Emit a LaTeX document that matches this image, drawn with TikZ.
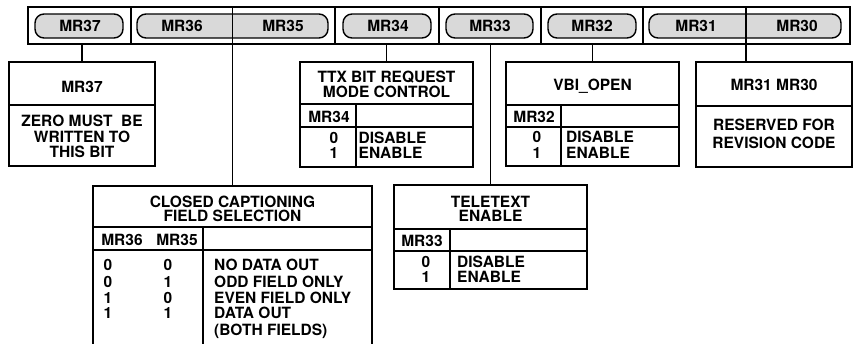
\documentclass[tikz,border=0pt]{standalone}
\usepackage{fontspec}
\setmainfont{TeX Gyre Heros}
\definecolor{pillgray}{HTML}{D9D9D9}
\tikzset{
  lbl/.style={inner sep=0pt, text height=11.1pt, text depth=0pt, font=\fontsize{15.5}{16}\selectfont\bfseries},
  boxn/.style={draw, line width=1.8pt, rectangle, inner sep=0pt},
  pill/.style={draw, line width=1.4pt, fill=pillgray, rounded corners=9pt, inner sep=0pt, minimum height=24pt},
  wire/.style={line width=1.8pt},
  divl/.style={line width=1.6pt},
}
\begin{document}
\begin{tikzpicture}[x=1pt,y=-1pt]
\useasboundingbox (0,0) rectangle (856,343);
\clip (0,0) rectangle (856,343);
\fill[white] (0,0) rectangle (856,343);

% register
\node[boxn, minimum width=822pt, minimum height=37pt] (reg) at (439,25.5) {};
\foreach \xx in {131,335,439,541,643} \draw[divl] (\xx,7) -- (\xx,44);

\node[pill, minimum width=88pt]  (p37)   at (79,26) {};
\node[pill, minimum width=191pt] (p3635) at (232.5,26) {};
\node[pill, minimum width=88pt]  (p34)   at (387,26) {};
\node[pill, minimum width=87pt]  (p33)   at (489.5,26) {};
\node[pill, minimum width=88pt]  (p32)   at (592,26) {};
\node[pill, minimum width=192pt] (p3130) at (745,26) {};

\node[lbl] (r37) at (80,26) {MR37};
\node[lbl] (r36) at (182,26) {MR36};
\node[lbl] (r35) at (283,26) {MR35};
\node[lbl] (r34) at (388,26) {MR34};
\node[lbl] (r33) at (490,26) {MR33};
\node[lbl] (r32) at (592,26) {MR32};
\node[lbl] (r31) at (696,26) {MR31};
\node[lbl] (r30) at (797,26) {MR30};

% boxes
\node[boxn, minimum width=146pt, minimum height=104pt] (b37)  at (82,114) {};
\node[boxn, minimum width=173pt, minimum height=105pt] (bttx) at (386.5,114.5) {};
\node[boxn, minimum width=173pt, minimum height=104pt] (bvbi) at (592.5,114) {};
\node[boxn, minimum width=156pt, minimum height=105pt] (b31)  at (774,114.5) {};
\node[boxn, minimum width=279pt, minimum height=164pt] (bcc)  at (232.5,268) {};
\node[boxn, minimum width=193pt, minimum height=104pt] (btt)  at (490.5,237) {};

% connectors
\draw[wire] (b37.north) -- (b37.north |- reg.south);
\draw[wire] (bttx.north) -- (bttx.north |- reg.south);
\draw[wire] (btt.north) -- (btt.north |- reg.south);
\draw[wire] (bvbi.north) -- (bvbi.north |- reg.south);
\draw[wire] (bcc.north) -- (bcc.north |- reg.north);
\coordinate (c3130) at (746,7);
\draw[wire] (c3130) -- (c3130 |- b31.north);

% MR37 box
\draw[divl] (9,105) -- (155,105);
\node[lbl] (t37a) at (82,87) {MR37};
\node[lbl] (t37b) at (82,121) {ZERO MUST\ \ BE};
\node[lbl] (t37c) at (82,137) {WRITTEN TO};
\node[lbl] (t37d) at (82,152) {THIS BIT};

% TTX box
\draw[divl] (300,104) -- (473,104);
\draw[divl] (300,127) -- (473,127);
\draw[divl] (356,104) -- (356,167);
\node[lbl] (tx1) at (386.5,77) {TTX BIT REQUEST};
\node[lbl] (tx2) at (386.5,92) {MODE CONTROL};
\node[lbl] (tx3) at (329,117) {MR34};
\node[lbl] (tx4) at (334,138) {0};
\node[lbl] (tx5) at (334,153) {1};
\node[lbl, anchor=west] (tx6) at (358.5,138) {DISABLE};
\node[lbl, anchor=west] (tx7) at (358.5,153) {ENABLE};

% VBI box
\draw[divl] (506,105) -- (679,105);
\draw[divl] (506,127) -- (679,127);
\draw[divl] (561,105) -- (561,166);
\node[lbl] (tv1) at (592.5,85) {VBI\_OPEN};
\node[lbl] (tv2) at (534,117) {MR32};
\node[lbl] (tv3) at (537,137) {0};
\node[lbl] (tv4) at (537,153) {1};
\node[lbl, anchor=west] (tv5) at (566,137) {DISABLE};
\node[lbl, anchor=west] (tv6) at (566,153) {ENABLE};

% MR31 MR30 box
\draw[divl] (696,106) -- (852,106);
\node[lbl] (tr1) at (774,85) {MR31 MR30};
\node[lbl] (tr2) at (774,125) {RESERVED FOR};
\node[lbl] (tr3) at (774,143) {REVISION CODE};

% CC box
\draw[divl] (93,227) -- (372,227);
\draw[divl] (93,250) -- (372,250);
\draw[divl] (203,227) -- (203,350);
\node[lbl] (tc1) at (232.5,202) {CLOSED CAPTIONING};
\node[lbl] (tc2) at (232.5,216) {FIELD SELECTION};
\node[lbl] (tc3) at (122,240) {MR36};
\node[lbl] (tc4) at (177,240) {MR35};
\node[lbl] (d11) at (108,265) {0};
\node[lbl] (d12) at (168,265) {0};
\node[lbl] (d21) at (108,282) {0};
\node[lbl] (d22) at (168,282) {1};
\node[lbl] (d31) at (108,298) {1};
\node[lbl] (d32) at (168,298) {0};
\node[lbl] (d41) at (108,313) {1};
\node[lbl] (d42) at (168,313) {1};
\node[lbl, anchor=west] (tc5) at (214,265) {NO DATA OUT};
\node[lbl, anchor=west] (tc6) at (214,282) {ODD FIELD ONLY};
\node[lbl, anchor=west] (tc7) at (214,298) {EVEN FIELD ONLY};
\node[lbl, anchor=west] (tc8) at (214,313) {DATA OUT};
\node[lbl, anchor=west] (tc9) at (214,330) {(BOTH FIELDS)};

% Teletext box
\draw[divl] (394,229) -- (587,229);
\draw[divl] (394,251) -- (587,251);
\draw[divl] (450,229) -- (450,289);
\node[lbl] (tt1) at (490.5,202) {TELETEXT};
\node[lbl] (tt2) at (490.5,216) {ENABLE};
\node[lbl] (tt3) at (422,241) {MR33};
\node[lbl] (tt4) at (426,262) {0};
\node[lbl] (tt5) at (426,277) {1};
\node[lbl, anchor=west] (tt6) at (457,262) {DISABLE};
\node[lbl, anchor=west] (tt7) at (457,277) {ENABLE};
\end{tikzpicture}
\end{document}
